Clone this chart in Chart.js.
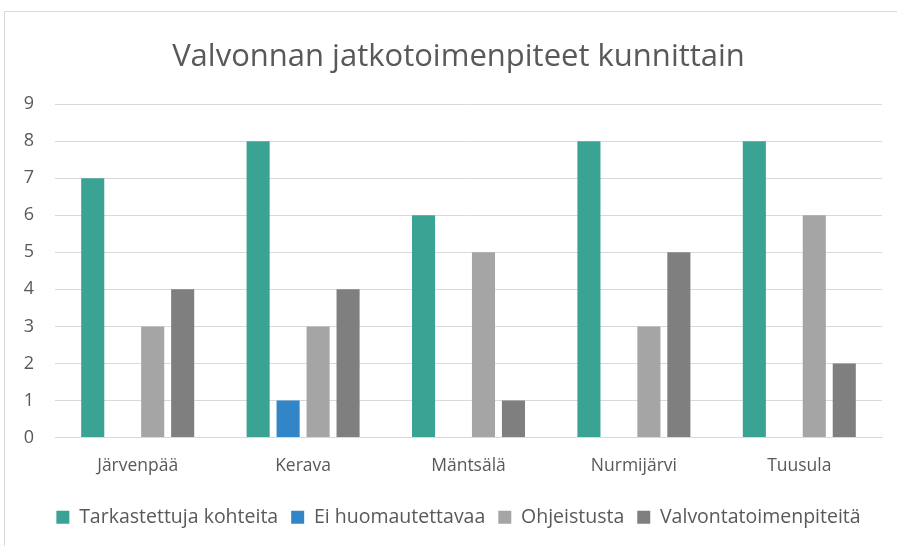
<!DOCTYPE html>
<html>
<head>
<meta charset="utf-8">
<script src="https://cdn.jsdelivr.net/npm/chart.js@4/dist/chart.umd.min.js"></script>
<style>
  html, body { margin: 0; padding: 0; background: #fff; }
  #frame { position: absolute; left: 4px; top: 11px; width: 900px; height: 560px; border: 1px solid #d9d9d9; }
  #wrap { position: absolute; left: 0; top: 0; width: 897px; height: 546px; }
</style>
</head>
<body>
<div id="frame"></div>
<div id="wrap"><canvas id="kunnatChart"></canvas></div>
<script>
// Categories and series
const kunnat = ['Järvenpää', 'Kerava', 'Mäntsälä', 'Nurmijärvi', 'Tuusula'];
const tarkastettuja = [7, 8, 6, 8, 8];
const eiHuomautettavaa = [0, 1, 0, 0, 0];
const ohjeistusta = [3, 3, 5, 3, 6];
const valvonta = [4, 4, 1, 5, 2];
const yTicks = [0, 1, 2, 3, 4, 5, 6, 7, 8, 9];

const textColor = '#595959';
const fontFamily = '"Open Sans", "Liberation Sans", sans-serif';

const ctx = document.getElementById('kunnatChart').getContext('2d');

const data = {
  labels: kunnat,
  datasets: [
    { label: 'Tarkastettuja kohteita', data: tarkastettuja, backgroundColor: '#3ba394' },
    { label: 'Ei huomautettavaa', data: eiHuomautettavaa, backgroundColor: '#3286c8' },
    { label: 'Ohjeistusta', data: ohjeistusta, backgroundColor: '#a5a5a5' },
    { label: 'Valvontatoimenpiteitä', data: valvonta, backgroundColor: '#7f7f7f' }
  ]
};

const config = {
  type: 'bar',
  data: data,
  options: {
    responsive: true,
    maintainAspectRatio: false,
    animation: false,
    datasets: {
      bar: { categoryPercentage: 0.725, barPercentage: 0.77 }
    },
    layout: { padding: { top: 39, right: 0, bottom: 9, left: 20 } },
    scales: {
      x: {
        grid: { display: false, drawTicks: false },
        border: { color: '#d9d9d9' },
        ticks: { color: textColor, font: { family: fontFamily, size: 17.5 }, padding: 18 }
      },
      y: {
        min: 0,
        max: 9,
        afterBuildTicks: (axis) => { axis.ticks = yTicks.map(v => ({ value: v })); },
        afterFit: (axis) => { axis.width = 35; },
        grid: { color: '#d9d9d9', drawTicks: false },
        border: { display: false },
        ticks: { color: textColor, font: { family: fontFamily, size: 18 }, padding: 21 }
      },
      // empty spacer on the right so title and legend sit centred like the original
      spacer: {
        position: 'right',
        min: 0,
        max: 9,
        afterFit: (axis) => { axis.width = 15; },
        grid: { display: false, drawTicks: false },
        border: { display: false },
        ticks: { display: false }
      }
    },
    plugins: {
      title: {
        display: true,
        text: 'Valvonnan jatkotoimenpiteet kunnittain',
        color: textColor,
        font: { family: fontFamily, size: 31, weight: 'normal' },
        padding: { top: 0, bottom: 28 }
      },
      legend: {
        position: 'bottom',
        labels: {
          color: textColor,
          font: { family: fontFamily, size: 19.5 },
          boxWidth: 13,
          boxHeight: 13,
          padding: 13
        }
      },
      tooltip: { enabled: false }
    }
  }
};

new Chart(ctx, config);
</script>
</body>
</html>
